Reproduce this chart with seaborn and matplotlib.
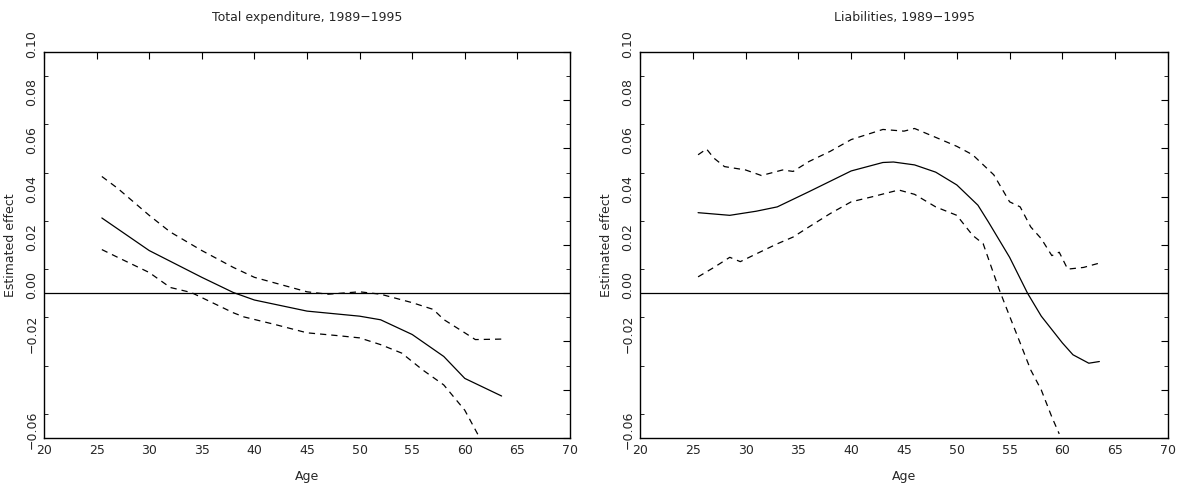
import numpy as np
import pandas as pd
import matplotlib
matplotlib.use("Agg")
import matplotlib.pyplot as plt
import matplotlib.transforms as mtransforms
from matplotlib.ticker import MultipleLocator
import seaborn as sns

# Total expenditure
exp_x = [25.5, 30, 35, 38, 40, 45, 50, 52, 55, 58, 60, 63.5]
exp_fit = [0.0312, 0.0177, 0.0066, 0.0003, -0.0028, -0.0074, -0.0095, -0.011, -0.0171, -0.0262, -0.0353, -0.0426]
exp_up_x = [25.5, 27, 30, 32, 35, 38, 40, 43, 45, 47, 50, 52, 55, 57, 58, 60, 61, 63.5]
exp_up = [0.0484, 0.0435, 0.0323, 0.0254, 0.0177, 0.0107, 0.0066, 0.003, 0.0006, -0.0004, 0.0006, -0.0004,
          -0.0039, -0.0067, -0.0109, -0.0164, -0.0192, -0.019]
exp_lo_x = [25.5, 27, 30, 32, 34, 36, 38, 39, 42, 45, 48, 50, 52, 54, 56, 58, 60, 61.3]
exp_lo = [0.0181, 0.0149, 0.0086, 0.0024, 0.0003, -0.0039, -0.0081, -0.0098, -0.013, -0.0164, -0.0176,
          -0.0185, -0.0213, -0.0248, -0.0318, -0.038, -0.0485, -0.059]

# Liabilities
lia_x = [25.5, 28.5, 31, 33, 36, 40, 43, 44, 46, 48, 50, 52, 53, 55, 56.7, 58, 60, 61, 62.5, 63.5]
lia_fit = [0.0334, 0.0323, 0.034, 0.0358, 0.0421, 0.0507, 0.0542, 0.0544, 0.0532, 0.0502, 0.0449, 0.0365,
           0.0295, 0.0149, 0.0, -0.0095, -0.0206, -0.0255, -0.029, -0.0283]
lia_up_x = [25.5, 26.3, 27, 28, 30, 31.5, 33.5, 34.5, 36, 38, 40, 42, 43, 45, 46, 48.5, 50, 51.5, 53.5,
            55, 56, 57, 58, 59, 59.7, 60.5, 62, 63.5]
lia_up = [0.0574, 0.0598, 0.056, 0.0525, 0.0511, 0.0488, 0.0511, 0.0505, 0.0546, 0.0588, 0.0637, 0.0665,
          0.0679, 0.0672, 0.0683, 0.0637, 0.0609, 0.0574, 0.0491, 0.0379, 0.0358, 0.0275, 0.0226, 0.0156,
          0.017, 0.01, 0.0107, 0.0125]
lia_lo_x = [25.5, 27, 28.5, 29.5, 31, 33, 34.5, 36, 38, 40, 42, 44.5, 46, 48, 50, 51.5, 52.5, 54, 55, 56,
            57, 58, 59, 59.7]
lia_lo = [0.0068, 0.0107, 0.0149, 0.0131, 0.0163, 0.0205, 0.0233, 0.0275, 0.033, 0.0379, 0.04, 0.0428,
          0.041, 0.0358, 0.0323, 0.024, 0.0205, 0.0017, -0.0095, -0.0206, -0.0318, -0.0401, -0.0513, -0.0583]

panels = [
    ("Total expenditure, 1989\u22121995", exp_x, exp_fit, exp_up_x, exp_up, exp_lo_x, exp_lo),
    ("Liabilities, 1989\u22121995", lia_x, lia_fit, lia_up_x, lia_up, lia_lo_x, lia_lo),
]

sns.set_style("white")
plt.rcParams["font.family"] = ["DejaVu Sans"]
plt.rcParams["font.size"] = 9

fig = plt.figure(figsize=(11.82, 4.91), dpi=100)
positions = [[44 / 1182, 1 - 438 / 491, 526 / 1182, 386 / 491],
             [640 / 1182, 1 - 438 / 491, 528 / 1182, 386 / 491]]

yticks = [-0.06, -0.04, -0.02, 0.0, 0.02, 0.04, 0.06, 0.08, 0.10]
ylabels = ["\u22120.06", "", "\u22120.02", "0.00", "0.02", "0.04", "0.06", "0.08", "0.10"]

for pos, (title, x, fit, ux, up, lx, lo) in zip(positions, panels):
    ax = fig.add_axes(pos)
    sns.lineplot(x=x, y=fit, ax=ax, color="black", lw=0.9)
    sns.lineplot(x=ux, y=up, ax=ax, color="black", lw=0.9, dashes=False, linestyle=(0, (5, 4)))
    sns.lineplot(x=lx, y=lo, ax=ax, color="black", lw=0.9, dashes=False, linestyle=(0, (5, 4)))
    ax.axhline(0, color="black", lw=0.9)
    ax.set_xlim(20, 70)
    ax.set_ylim(-0.06, 0.10)
    ax.set_xticks(range(20, 71, 5))
    ax.set_xticklabels([str(v) for v in range(20, 71, 5)])
    ax.set_yticks(yticks)
    ax.set_yticklabels(ylabels, rotation=90, va="center")
    ax.yaxis.set_minor_locator(MultipleLocator(0.01))
    ax.tick_params(which="both", direction="in", top=True, right=True, color="black", pad=4)
    ax.tick_params(which="major", length=5)
    ax.tick_params(which="minor", length=3, left=True, right=True)
    off = mtransforms.ScaledTranslation(0, 8 / 100, fig.dpi_scale_trans)
    for lab in ax.get_yticklabels():
        lab.set_transform(lab.get_transform() + off)
    for s in ax.spines.values():
        s.set_color("black")
        s.set_linewidth(1.0)
    ax.set_title(title, fontsize=9, pad=22)
    ax.set_xlabel("Age", fontsize=9, labelpad=10)
    ax.set_ylabel("Estimated effect", fontsize=9, labelpad=6)

fig.savefig("out.png", dpi=100)
